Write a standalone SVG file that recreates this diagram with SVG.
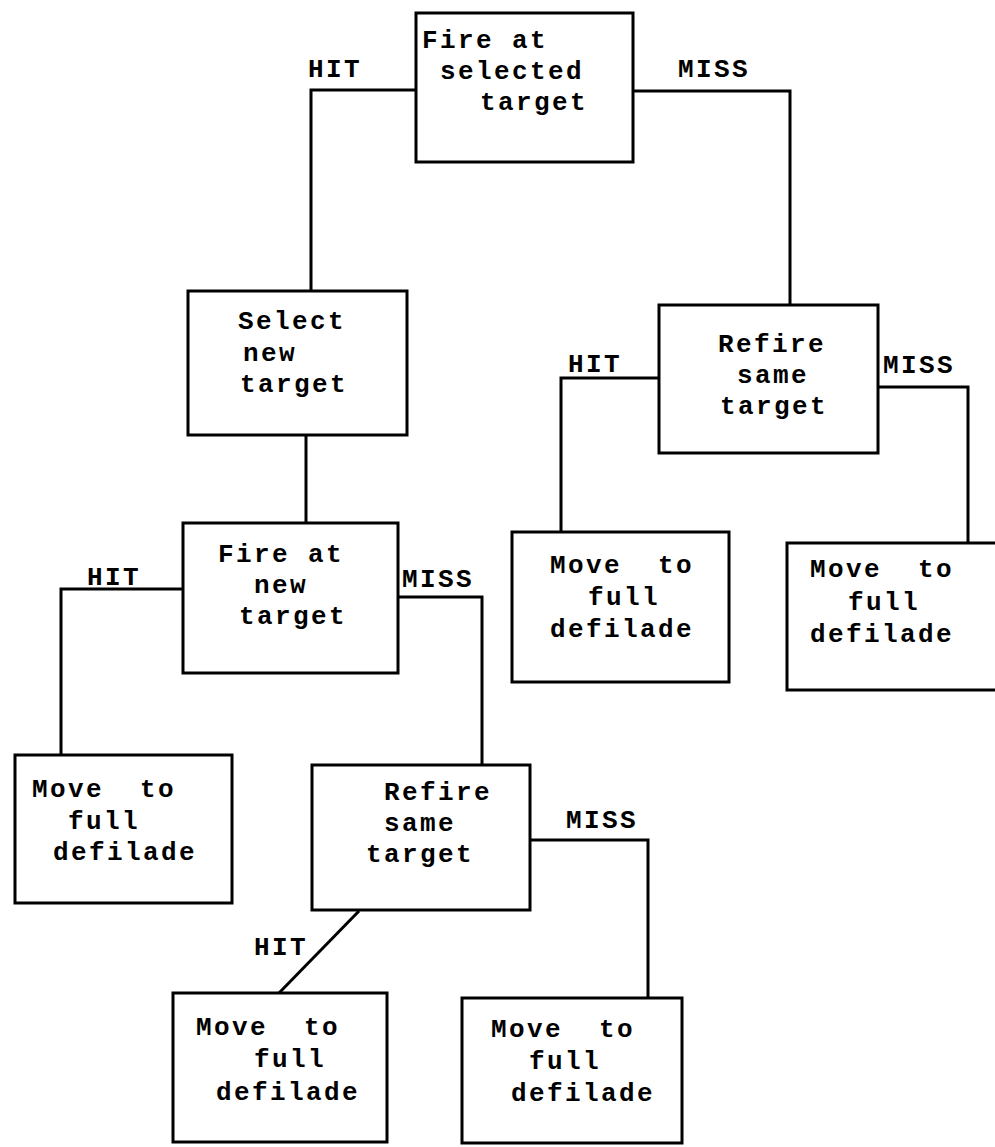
<svg xmlns="http://www.w3.org/2000/svg" width="995" height="1147" viewBox="0 0 995 1147">
<style>
.box{fill:none;stroke:#000;stroke-width:3}
.ln{fill:none;stroke:#000;stroke-width:3}
text{font-family:"Liberation Mono","Courier New",monospace;font-size:26px;letter-spacing:2.4px;font-weight:bold;fill:#000;white-space:pre}
</style>
<rect x="0" y="0" width="995" height="1147" fill="#fff"/>
<g id="connectors">
<polyline class="ln" points="416,90 311,90 311,291"/>
<polyline class="ln" points="633,91 790,91 790,305"/>
<line class="ln" x1="306" y1="435" x2="306" y2="523"/>
<polyline class="ln" points="659,378 561,378 561,532"/>
<polyline class="ln" points="878,387 968,387 968,543"/>
<polyline class="ln" points="183,589 61,589 61,755"/>
<polyline class="ln" points="398,597 482,597 482,765"/>
<polyline class="ln" points="530,840 648,840 648,998"/>
<line class="ln" x1="359" y1="911" x2="279" y2="993"/>
<text x="308" y="77">HIT</text>
<text x="678" y="77">MISS</text>
<text x="568" y="372">HIT</text>
<text x="883" y="373">MISS</text>
<text x="87" y="585">HIT</text>
<text x="402" y="587">MISS</text>
<text x="566" y="828">MISS</text>
<text x="254" y="955">HIT</text>
</g>
<g id="fire-selected">
<rect class="box" x="416" y="13" width="217" height="149"/>
<text x="422" y="48">Fire at</text>
<text x="440" y="79">selected</text>
<text x="480" y="110">target</text>
</g>
<g id="select-new">
<rect class="box" x="188" y="291" width="219" height="144"/>
<text x="238" y="329">Select</text>
<text x="243" y="361">new</text>
<text x="240" y="392">target</text>
</g>
<g id="refire-1">
<rect class="box" x="659" y="305" width="219" height="148"/>
<text x="718" y="352">Refire</text>
<text x="737" y="383">same</text>
<text x="720" y="414">target</text>
</g>
<g id="move-1">
<rect class="box" x="512" y="532" width="217" height="150"/>
<text x="550" y="573">Move  to</text>
<text x="588" y="605">full</text>
<text x="550" y="637">defilade</text>
</g>
<g id="move-2">
<rect class="box" x="787" y="543" width="230" height="147"/>
<text x="810" y="577">Move  to</text>
<text x="848" y="610">full</text>
<text x="810" y="642">defilade</text>
</g>
<g id="fire-new">
<rect class="box" x="183" y="523" width="215" height="150"/>
<text x="218" y="562">Fire at</text>
<text x="254" y="593">new</text>
<text x="239" y="624">target</text>
</g>
<g id="move-3">
<rect class="box" x="15" y="755" width="217" height="148"/>
<text x="32" y="797">Move  to</text>
<text x="68" y="829">full</text>
<text x="53" y="860">defilade</text>
</g>
<g id="refire-2">
<rect class="box" x="312" y="765" width="218" height="145"/>
<text x="384" y="800">Refire</text>
<text x="384" y="831">same</text>
<text x="366" y="862">target</text>
</g>
<g id="move-4">
<rect class="box" x="173" y="993" width="214" height="149"/>
<text x="196" y="1035">Move  to</text>
<text x="254" y="1067">full</text>
<text x="216" y="1100">defilade</text>
</g>
<g id="move-5">
<rect class="box" x="462" y="998" width="220" height="145"/>
<text x="491" y="1037">Move  to</text>
<text x="529" y="1069">full</text>
<text x="511" y="1101">defilade</text>
</g>
</svg>
